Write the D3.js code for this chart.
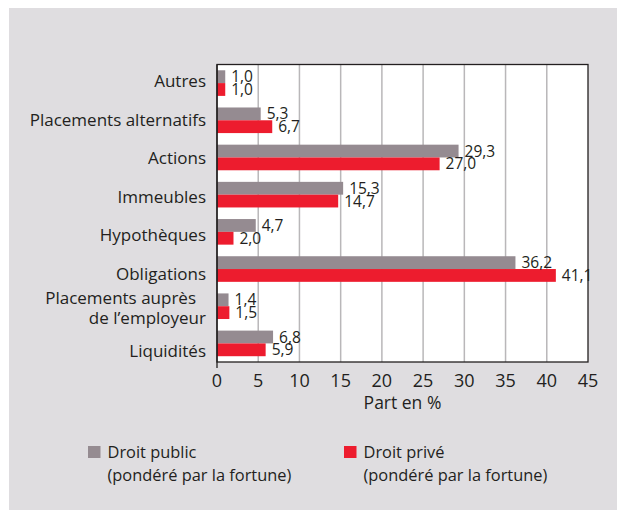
<!DOCTYPE html>
<html>
<head>
<meta charset="utf-8">
<script src="https://cdn.jsdelivr.net/npm/d3@7"></script>
<style>
  body { margin: 0; background: #fff; }
  svg text { font-family: "Open Sans", sans-serif; fill: #231f20; }
</style>
</head>
<body>
<svg id="chart" width="617" height="510"></svg>
<script>
// data
const categories = [
  "Autres",
  "Placements alternatifs",
  "Actions",
  "Immeubles",
  "Hypothèques",
  "Obligations",
  "Placements auprès\nde l’employeur",
  "Liquidités"
]
const publicValues = [1.0, 5.3, 29.3, 15.3, 4.7, 36.2, 1.4, 6.8]
const priveValues = [1.0, 6.7, 27.0, 14.7, 2.0, 41.1, 1.5, 5.9]
const xTicks = [0, 5, 10, 15, 20, 25, 30, 35, 40, 45]
const seriesNames = ["Droit public", "Droit privé"]
const legendSub = "(pondéré par la fortune)"

const grayColor = "#958b91"
const redColor = "#ed1c2e"

const svg = d3.select("#chart")

// panel background
svg.append("rect")
  .attr("x", 9).attr("y", 8)
  .attr("width", 608).attr("height", 502)
  .attr("fill", "#dfdde0")

const margin = { top: 64.5, left: 217, right: 588, bottom: 362 }

const x = d3.scaleLinear().domain([0, 45]).range([margin.left, margin.right])
const y = d3.scaleBand().domain(d3.range(categories.length)).range([margin.top, margin.bottom])
// the category names sit on their own, slightly wider spacing
const yLabel = d3.scalePoint().domain(d3.range(categories.length)).range([87.3, 356.7])

// plot area
svg.append("rect")
  .attr("x", margin.left).attr("y", margin.top)
  .attr("width", margin.right - margin.left).attr("height", margin.bottom - margin.top)
  .attr("fill", "#fff")

// grid
svg.append("g").selectAll("line")
  .data(xTicks.slice(1, -1))
  .join("line")
  .attr("x1", d => x(d)).attr("x2", d => x(d))
  .attr("y1", margin.top).attr("y2", margin.bottom)
  .attr("stroke", "#b9b7b9").attr("stroke-width", 1.5)

const barH = 12.8
const rows = svg.append("g").selectAll("g")
  .data(categories)
  .join("g")
  .attr("transform", (d, i) => "translate(0," + (y(i) + y.bandwidth() / 2) + ")")

rows.append("rect")
  .attr("x", x(0)).attr("y", -barH)
  .attr("width", (d, i) => x(publicValues[i]) - x(0))
  .attr("height", barH)
  .attr("fill", grayColor)

rows.append("rect")
  .attr("x", x(0)).attr("y", 0)
  .attr("width", (d, i) => x(priveValues[i]) - x(0))
  .attr("height", barH)
  .attr("fill", redColor)

const fmt = v => v.toFixed(1).replace(".", ",")

rows.append("text")
  .attr("x", (d, i) => x(publicValues[i]) + 6)
  .attr("y", -barH / 2 + 5.5)
  .attr("font-size", 15.5)
  .text((d, i) => fmt(publicValues[i]))

rows.append("text")
  .attr("x", (d, i) => x(priveValues[i]) + 6)
  .attr("y", barH / 2 + 5.5)
  .attr("font-size", 15.5)
  .text((d, i) => fmt(priveValues[i]))

// category labels
svg.append("g").selectAll("text")
  .data(categories)
  .join("text")
  .attr("text-anchor", "end")
  .attr("font-size", 17)
  .attr("transform", (d, i) => "translate(0," + yLabel(i) + ")")
  .each(function (d) {
    const lines = d.split("\n")
    const t = d3.select(this)
    if (lines.length === 1) {
      t.append("tspan").attr("x", 206).attr("y", 0).text(d)
    } else {
      t.append("tspan").attr("x", 196).attr("y", -14).text(lines[0])
      t.append("tspan").attr("x", 206).attr("y", 6).text(lines[1])
    }
  })

// frame
svg.append("rect")
  .attr("x", margin.left).attr("y", margin.top)
  .attr("width", margin.right - margin.left).attr("height", margin.bottom - margin.top)
  .attr("fill", "none").attr("stroke", "#231f20").attr("stroke-width", 1.3)

svg.append("line")
  .attr("x1", x(0)).attr("x2", x(0))
  .attr("y1", margin.top).attr("y2", margin.bottom + 6)
  .attr("stroke", "#231f20").attr("stroke-width", 1.3)

// x tick labels
svg.append("g").selectAll("text")
  .data(xTicks)
  .join("text")
  .attr("x", d => x(d)).attr("y", 387)
  .attr("text-anchor", "middle")
  .attr("font-size", 18)
  .text(d => d)

svg.append("text")
  .attr("x", (margin.left + margin.right) / 2).attr("y", 409)
  .attr("text-anchor", "middle")
  .attr("font-size", 17.5)
  .text("Part en %")

// legend
const legend = svg.append("g").selectAll("g")
  .data(seriesNames)
  .join("g")
  .attr("transform", (d, i) => "translate(" + (i === 0 ? 88 : 344) + ",446)")

legend.append("rect")
  .attr("width", 12.5).attr("height", 12)
  .attr("fill", (d, i) => i === 0 ? grayColor : redColor)

legend.append("text")
  .attr("x", 19.5).attr("y", 11.5)
  .attr("font-size", 16.4)
  .text(d => d)

legend.append("text")
  .attr("x", 19.5).attr("y", 34.5)
  .attr("font-size", 16.4)
  .text(legendSub)
</script>
</body>
</html>
